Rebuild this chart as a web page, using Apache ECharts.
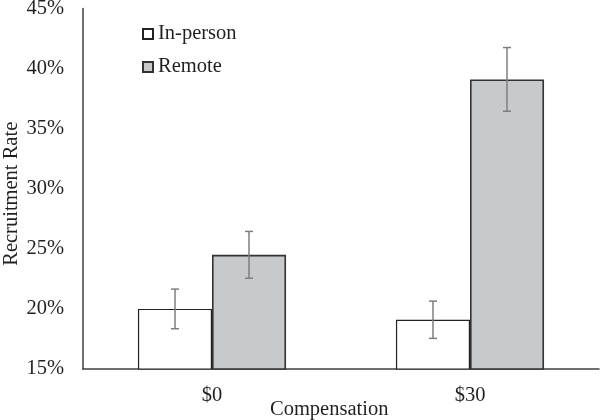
<!DOCTYPE html>
<html>
<head>
<meta charset="utf-8">
<script src="https://cdn.jsdelivr.net/npm/echarts@6/dist/echarts.min.js"></script>
<style>
  html, body { margin: 0; padding: 0; background: #fff; }
  #chart { width: 600px; height: 420px; }
</style>
</head>
<body>
<div id="chart"></div>
<script>
// data
var categories = ["$0", "$30"];
var inPerson = [20.0, 19.1];
var remote = [24.5, 39.1];
var inPersonErr = [1.65, 1.55];
var remoteErr = [1.95, 2.65];
var yTicks = [15, 20, 25, 30, 35, 40, 45];

var font = "Liberation Serif";
var ink = "#231f20";
var fs = 20.5;

// error bars: [categoryIndex, low, high]
function errData(vals, errs) {
  return vals.map(function (v, i) {
    return [i, v - errs[i], v + errs[i]];
  });
}

function errRender(side) {
  return function (params, api) {
    var lo = api.coord([api.value(0), api.value(1)]);
    var hi = api.coord([api.value(0), api.value(2)]);
    var band = api.size([1, 0])[0];
    var x = lo[0] + side * band * 0.1434;
    var cap = 4;
    var style = { stroke: "#7f7f7f", lineWidth: 1.5 };
    return {
      type: "group",
      children: [
        { type: "line", shape: { x1: x, y1: lo[1], x2: x, y2: hi[1] }, style: style },
        { type: "line", shape: { x1: x - cap, y1: lo[1], x2: x + cap, y2: lo[1] }, style: style },
        { type: "line", shape: { x1: x - cap, y1: hi[1], x2: x + cap, y2: hi[1] }, style: style }
      ]
    };
  };
}

var myChart = echarts.init(document.getElementById("chart"));
myChart.setOption({
  animation: false,
  backgroundColor: "#fff",
  textStyle: { fontFamily: font, color: ink },
  grid: { left: 83, right: 1, top: 8.5, bottom: 51, containLabel: false, outerBoundsMode: "none" },
  legend: {
    orient: "vertical",
    left: 142,
    top: 22.5,
    padding: 0,
    icon: "rect",
    itemWidth: 10,
    itemHeight: 10,
    itemGap: 10,
    data: ["In-person", "Remote"],
    textStyle: { fontFamily: font, fontSize: fs, color: ink, lineHeight: 23 }
  },
  xAxis: {
    type: "category",
    data: categories,
    axisLine: { lineStyle: { color: "#404040", width: 1.5 } },
    axisTick: { show: false },
    axisLabel: { fontFamily: font, fontSize: fs, color: ink, margin: 16 }
  },
  yAxis: {
    type: "value",
    min: yTicks[0],
    max: yTicks[yTicks.length - 1],
    interval: 5,
    splitLine: { show: false },
    axisTick: { show: false },
    axisLine: { show: true, lineStyle: { color: "#404040", width: 1.5 } },
    axisLabel: {
      fontFamily: font, fontSize: fs, color: ink, margin: 19,
      formatter: function (v) { return v + "%"; }
    },
    name: "Recruitment Rate",
    nameLocation: "middle",
    nameGap: 61,
    nameMoveOverlap: false,
    nameTextStyle: { fontFamily: font, fontSize: fs, color: ink, padding: [0, 10, 0, 0] }
  },
  graphic: [{
    type: "text",
    left: 270,
    top: 399,
    style: { text: "Compensation", font: fs + "px " + font, fill: ink }
  }],
  series: [
    {
      name: "In-person",
      type: "bar",
      data: inPerson,
      barGap: "0%",
      barCategoryGap: "42.6%",
      itemStyle: { color: "#ffffff", borderColor: "#222", borderWidth: 1.2 }
    },
    {
      name: "Remote",
      type: "bar",
      data: remote,
      itemStyle: { color: "#c8c9cb", borderColor: "#333", borderWidth: 1.6 }
    },
    {
      type: "custom",
      renderItem: errRender(-1),
      data: errData(inPerson, inPersonErr),
      encode: { x: 0, y: [1, 2] },
      z: 10
    },
    {
      type: "custom",
      renderItem: errRender(1),
      data: errData(remote, remoteErr),
      encode: { x: 0, y: [1, 2] },
      z: 10
    }
  ]
});

window.onresize = function () {
  myChart.resize();
};
</script>
</body>
</html>
